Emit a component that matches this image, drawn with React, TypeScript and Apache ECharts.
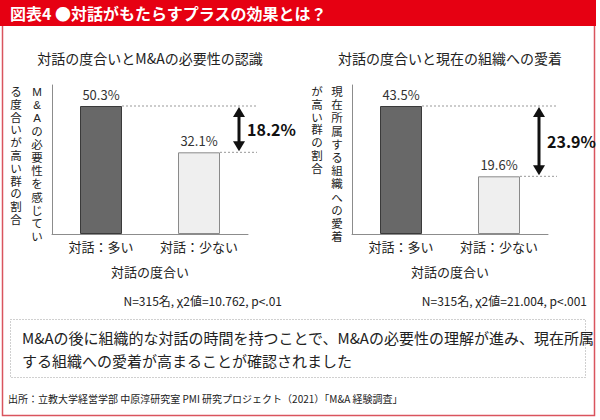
import React, { useEffect, useRef } from "react";
import * as echarts from "echarts";

const categories = ["対話：多い", "対話：少ない"];
const recognitionValues = [50.3, 32.1];
const attachmentValues = [43.5, 19.6];
const chartTitles = ["対話の度合いとM&Aの必要性の認識", "対話の度合いと現在の組織への愛着"];
const yNameColumns = [
  ["M&Aの必要性を感じてい", "る度合いが高い群の割合"],
  ["現在所属する組織への愛着", "が高い群の割合"],
];
const xAxisName = "対話の度合い";
const statNotes = ["N=315名, χ2値=10.762, p<.01", "N=315名, χ2値=21.004, p<.001"];
const headerTitle = "図表4 ●対話がもたらすプラスの効果とは？";
const summaryLines = [
  "M&Aの後に組織的な対話の時間を持つことで、M&Aの必要性の理解が進み、現在所属",
  "する組織への愛着が高まることが確認されました",
];
const sourceNote = "出所：立教大学経営学部 中原淳研究室 PMI 研究プロジェクト（2021）「M&A 経験調査」";

const FONT = '"Noto Sans CJK JP", "Noto Sans", sans-serif';
const COL_FONT = '"Liberation Sans", "Noto Sans CJK JP", sans-serif';
const TEXT = "#222";

export default function App() {
  const ref = useRef<HTMLDivElement>(null);
  useEffect(() => {
    if (!ref.current) return;
    const chart = echarts.init(ref.current, undefined, { renderer: "svg" });
    const datasets = [recognitionValues, attachmentValues];
    const gridLefts = [52, 352];
    const centers = [150, 450];

    const barItems = (vals: number[]) =>
      vals.map((v, i) => ({
        value: v,
        itemStyle:
          i === 0
            ? { color: "#686868", borderColor: "#3a3a3a", borderWidth: 1 }
            : { color: "#efefef", borderColor: "#8a8a8a", borderWidth: 1 },
      }));

    const base: any[] = [
      { type: "rect", shape: { x: 0, y: 0, width: 596, height: 26 }, style: { fill: "#e60012" } },
      {
        type: "text",
        style: { text: headerTitle, x: 10, y: 13, fontSize: 16, fontWeight: "bold", fill: "#fff", fontFamily: FONT, verticalAlign: "middle" },
      },
      {
        type: "polyline",
        shape: { points: [[2.5, 26], [2.5, 415.5], [594.5, 415.5], [594.5, 26]] },
        style: { stroke: "#d9545e", lineWidth: 1.5, fill: null },
      },
      {
        type: "rect",
        shape: { x: 10.5, y: 319.5, width: 575, height: 58 },
        style: { fill: null, stroke: "#a0a0a0", lineWidth: 1, lineDash: [1, 2] },
      },
      ...summaryLines.map((t, i) => ({
        type: "text",
        style: { text: t, x: 22, y: 337 + i * 23, fontSize: 15, fill: TEXT, fontFamily: FONT, verticalAlign: "middle" },
      })),
      {
        type: "text",
        style: { text: sourceNote, x: 8, y: 398, fontSize: 10, fill: TEXT, fontFamily: FONT, verticalAlign: "middle" },
      },
    ];

    const colX = [
      [37, 16],
      [337, 317],
    ];
    const colStep = [
      [13.2, 12.8],
      [13.2, 12.8],
    ];
    [0, 1].forEach((k) => {
      base.push({
        type: "text",
        style: { text: chartTitles[k], x: centers[k], y: 58, fontSize: 14, fill: TEXT, fontFamily: FONT, align: "center", verticalAlign: "middle" },
      });
      yNameColumns[k].forEach((col, j) => {
        Array.from(col).forEach((ch, c) => {
          base.push({
            type: "text",
            style: {
              text: ch,
              x: colX[k][j],
              y: 92 + c * colStep[k][j],
              fontSize: 11.5,
              fill: TEXT,
              fontFamily: COL_FONT,
              align: "center",
              verticalAlign: "middle",
            },
          });
        });
      });
      base.push({
        type: "text",
        style: { text: statNotes[k], x: k === 0 ? 282 : 587, y: 300, fontSize: 12, fill: TEXT, fontFamily: FONT, align: "right", verticalAlign: "middle" },
      });
    });

    chart.setOption({
      animation: false,
      textStyle: { fontFamily: FONT },
      grid: gridLefts.map((l) => ({ left: l, top: 85, width: 196, height: 149 })),
      xAxis: [0, 1].map((k) => ({
        type: "category",
        gridIndex: k,
        data: categories,
        axisLine: { lineStyle: { color: "#8c8c8c", width: 1 } },
        axisTick: { show: false },
        axisLabel: { color: TEXT, fontSize: 13, margin: 6, interval: 0, fontFamily: FONT },
        name: xAxisName,
        nameLocation: "middle",
        nameGap: 31,
        nameTextStyle: { color: TEXT, fontSize: 13, fontFamily: FONT },
      })),
      yAxis: [0, 1].map((k) => ({
        type: "value",
        gridIndex: k,
        min: 0,
        max: (e: any) => (e.max * 149) / 128,
        axisLine: { show: true, lineStyle: { color: "#8c8c8c", width: 1 } },
        axisTick: { show: false },
        axisLabel: { show: false },
        splitLine: { show: false },
      })),
      series: [0, 1].map((k) => ({
        type: "bar",
        xAxisIndex: k,
        yAxisIndex: k,
        barWidth: 42,
        data: barItems(datasets[k]),
        label: { show: true, position: "top", distance: 5, formatter: "{c}%", fontSize: 13, color: "#333", fontFamily: FONT },
      })),
      graphic: base,
    });

    const extra: any[] = [];
    [0, 1].forEach((k) => {
      const vals = datasets[k];
      const p0 = chart.convertToPixel({ seriesIndex: k }, [0, vals[0]]) as number[];
      const p1 = chart.convertToPixel({ seriesIndex: k }, [1, vals[1]]) as number[];
      const half = 21;
      const ax = p1[0] + half + 19;
      const dashEnd = ax + 18;
      const yTop = p0[1];
      const yBot = p1[1];
      extra.push(
        { type: "line", shape: { x1: p0[0] + half, y1: yTop, x2: dashEnd, y2: yTop }, style: { stroke: "#999", lineWidth: 1, lineDash: [2, 2] } },
        { type: "line", shape: { x1: p1[0] + half, y1: yBot, x2: dashEnd, y2: yBot }, style: { stroke: "#999", lineWidth: 1, lineDash: [2, 2] } },
        { type: "line", shape: { x1: ax, y1: yTop + 8, x2: ax, y2: yBot - 8 }, style: { stroke: "#111", lineWidth: 3 } },
        { type: "polygon", shape: { points: [[ax, yTop + 1], [ax - 6, yTop + 11], [ax + 6, yTop + 11]] }, style: { fill: "#111" } },
        { type: "polygon", shape: { points: [[ax, yBot - 1], [ax - 6, yBot - 11], [ax + 6, yBot - 11]] }, style: { fill: "#111" } },
        {
          type: "text",
          style: {
            text: (vals[0] - vals[1]).toFixed(1) + "%",
            x: ax + 8,
            y: (yTop + yBot) / 2,
            fontSize: 16,
            fontWeight: "bold",
            fill: "#111",
            fontFamily: FONT,
            verticalAlign: "middle",
          },
        }
      );
    });
    chart.setOption({ graphic: [...base, ...extra] });

    return () => chart.dispose();
  }, []);

  return (
    <div
      ref={ref}
      style={{ position: "fixed", left: 0, top: 0, width: 600, height: 420, background: "#fff" }}
    />
  );
}
